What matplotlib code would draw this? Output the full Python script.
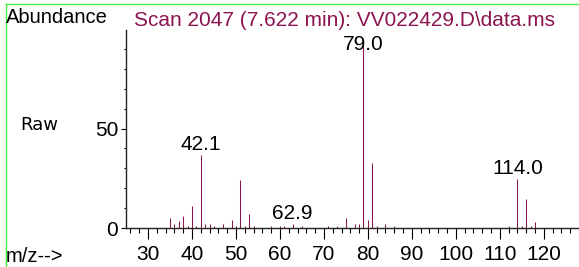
"""
Mass spectrum, scan 2047 (7.622 min)
"""
import matplotlib
matplotlib.use('Agg')
import matplotlib.pyplot as plt
from matplotlib.lines import Line2D
from matplotlib.ticker import MultipleLocator

# peaks
mz = [35, 36, 37, 38, 39, 40, 41, 42.1, 43, 44, 45, 47, 49, 50, 51, 52, 53, 54,
      58, 60, 61, 62.9, 65, 71, 73, 75, 77, 78, 79.0, 80, 81, 82, 84, 86,
      112, 114.0, 115, 116, 117, 118]
abundance = [5.2, 2, 3.5, 6, 1, 11, 1, 36.5, 2, 2, 1, 2, 4, 1, 24, 1, 7, 1,
             0.8, 1, 1, 2, 1, 1, 1, 5, 2, 2, 95, 4, 32.7, 1, 2, 1,
             1, 24.7, 1, 14.8, 1, 3]
labelled = [42.1, 62.9, 79.0, 114.0]

title = r'Scan 2047 (7.622 min): VV022429.D\data.ms'
peak_color = '#8c1450'
font = ['Liberation Sans', 'DejaVu Sans']

W, H = 579, 267
fig = plt.figure(figsize=(W / 100, H / 100), dpi=100)
ax = fig.add_axes([126 / W, 39 / H, (W - 126) / W, 198 / H])

ax.vlines(mz, 0, abundance, color=peak_color, linewidth=0.75)
for m, a in zip(mz, abundance):
    if m in labelled:
        ax.text(m, min(a + 2.5, 89.4), f'{m:.1f}', ha='center', va='baseline',
                fontsize=15, family=font)

ax.set(xlim=(25, 128), ylim=(0, 99.5))
ax.spines[['top', 'right']].set_visible(False)
for s in ['left', 'bottom']:
    ax.spines[s].set_linewidth(1.0)
    ax.spines[s].set_color('#222222')

ax.xaxis.set_major_locator(MultipleLocator(10))
ax.xaxis.set_minor_locator(MultipleLocator(2))
ax.yaxis.set_major_locator(MultipleLocator(50))
ax.yaxis.set_minor_locator(MultipleLocator(10))
ax.tick_params(axis='x', which='major', length=8, width=0.8, pad=4, labelsize=15)
ax.tick_params(axis='x', which='minor', length=3.6, width=0.8)
ax.tick_params(axis='y', which='major', length=3.6, width=0.8, pad=2, labelsize=15)
ax.tick_params(axis='y', which='minor', length=1.5, width=0.8)
for lbl in ax.get_xticklabels() + ax.get_yticklabels():
    lbl.set_family(font)

fig.text(6 / W, 1 - 23 / H, 'Abundance', fontsize=14.5, family=font, va='baseline')
fig.text(134 / W, 1 - 26 / H, title, fontsize=15, family=font, va='baseline',
         color=peak_color)
fig.text(20 / W, 1 - 130 / H, 'Raw', fontsize=13, family='DejaVu Sans', va='baseline')
fig.text(6 / W, 1 - 262 / H, 'm/z-->', fontsize=14.5, family=font, va='baseline')

# green frame on the top and left edges
fig.add_artist(Line2D([5.5 / W, 5.5 / W], [0, 1 - 3.5 / H], color='#44ee44', linewidth=1))
fig.add_artist(Line2D([5.5 / W, 1], [1 - 3.5 / H, 1 - 3.5 / H], color='#44ee44', linewidth=1))

fig.savefig('out.png', dpi=100)
